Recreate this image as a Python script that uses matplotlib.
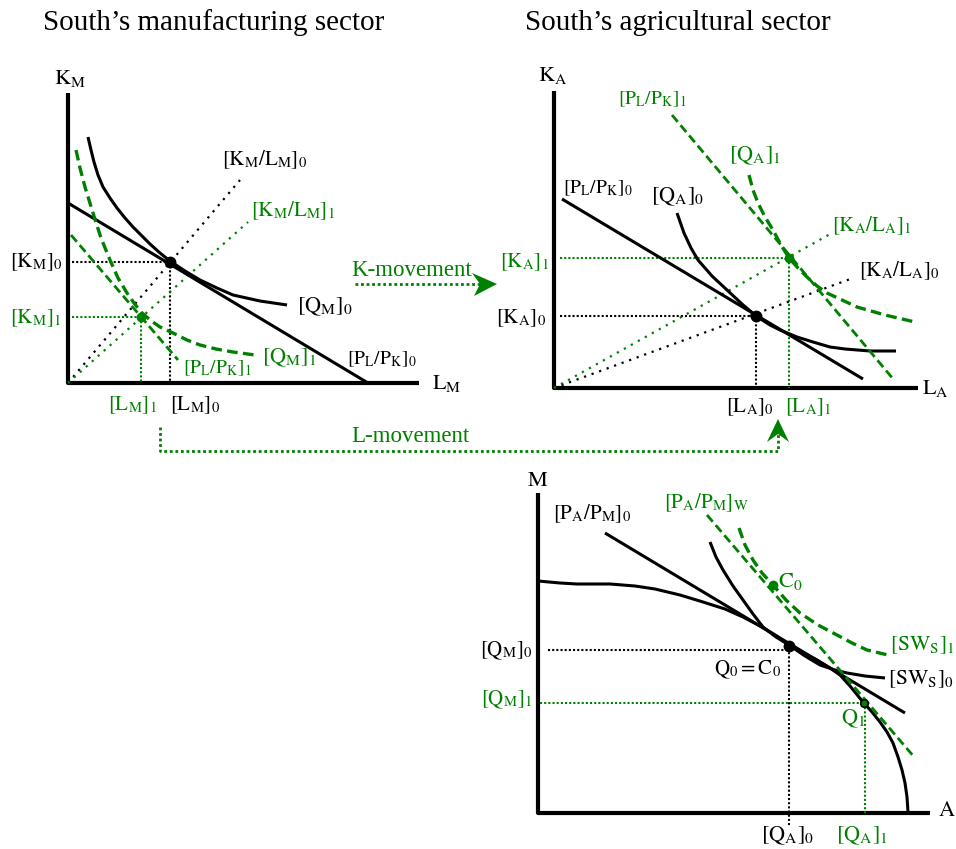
import matplotlib
matplotlib.use('Agg')
import matplotlib.pyplot as plt
from matplotlib.patches import Polygon

plt.rcParams['font.family'] = ['Liberation Serif', 'DejaVu Serif']
plt.rcParams['mathtext.fontset'] = 'stix'

GREEN = '#008000'
BLACK = '#000000'

# ---------------- data (diagram coordinates, y grows downward) ----------------
# Manufacturing panel
mfg_axis_x = [68, 68, 419]
mfg_axis_y = [93, 383, 383]
mfg_q0_x = [88, 91, 94, 98, 103, 110, 117, 125, 133, 141, 150, 160, 170, 185, 200, 217, 233, 260, 287]
mfg_q0_y = [137, 150, 162, 175, 187, 198, 208, 218, 227, 235, 244, 253, 261, 271, 280, 288, 295, 301, 305]
mfg_p0_x = [68, 368]
mfg_p0_y = [203, 383]
mfg_ray0_x = [68, 240]
mfg_ray0_y = [383, 180]
mfg_q1_x = [76, 80, 85, 93, 101, 110, 118, 127, 134, 141, 150, 160, 173, 187, 200, 216, 233, 255]
mfg_q1_y = [150, 168, 187, 213, 238, 260, 278, 293, 303, 312, 320, 327, 333, 340, 345, 349, 352, 355]
mfg_p1_x = [71, 178]
mfg_p1_y = [235, 360]
mfg_ray1_x = [68, 248]
mfg_ray1_y = [383, 222]
mfg_e0 = (170, 262)
mfg_e1 = (141, 317)

# Agricultural panel
ag_axis_x = [554, 554, 918]
ag_axis_y = [91, 388, 388]
ag_p0_x = [562, 863]
ag_p0_y = [199, 379]
ag_q0_x = [677, 684, 691, 698, 712, 727, 742, 756, 770, 780, 797, 813, 830, 845, 870, 896]
ag_q0_y = [213, 233, 248, 260, 276, 290, 304, 316, 325, 330, 337, 342, 347, 349, 351, 351]
ag_ray0_x = [554, 853]
ag_ray0_y = [388, 278]
ag_p1_x = [672, 894]
ag_p1_y = [115, 380]
ag_q1_x = [749, 753, 758, 765, 773, 781, 789, 798, 807, 817, 827, 842, 857, 885, 915]
ag_q1_y = [175, 190, 203, 217, 230, 245, 258, 268, 277, 286, 293, 300, 307, 315, 322]
ag_ray1_x = [554, 832]
ag_ray1_y = [388, 233]
ag_e0 = (756, 316)
ag_e1 = (789, 258)

# Production / trade panel
tr_axis_x = [538, 538, 930]
tr_axis_y = [493, 813, 813]
ppf_x = [538, 560, 577, 610, 635, 655, 680, 703, 725, 743, 760, 775, 789, 803, 817, 830, 840,
         850, 863, 872, 880, 887, 893, 898, 902, 905, 907, 908]
ppf_y = [581, 583, 584, 584, 586, 589, 595, 602, 609, 617, 626, 635, 645, 653, 660, 668, 675,
         686, 702, 712, 722, 732, 743, 757, 770, 783, 797, 812]
tr_p0_x = [605, 905]
tr_p0_y = [533, 713]
sw0_x = [710, 716, 723, 733, 743, 753, 763, 776, 789, 805, 820, 835, 847, 865, 885]
sw0_y = [542, 557, 570, 586, 600, 614, 627, 637, 645, 656, 665, 670, 673, 676, 678]
tr_pw_x = [707, 915]
tr_pw_y = [515, 758]
sw1_x = [739, 745, 753, 762, 773, 786, 800, 818, 837, 852, 867, 888]
sw1_y = [528, 545, 560, 573, 585, 600, 613, 625, 635, 643, 650, 655]
tr_q0 = (789, 646)
tr_c0 = (773, 585)
tr_q1 = (864, 703)

# factor movement paths
kmove_x = [355, 480]
kmove_y = [284, 284]
lmove_x = [160, 160, 778, 778]
lmove_y = [427, 451, 451, 432]

# ---------------- drawing ----------------
fig = plt.figure(figsize=(9.56, 8.49), dpi=100)
ax = fig.add_axes([0, 0, 1, 1])
ax.set_xlim(0, 956)
ax.set_ylim(849, 0)
ax.axis('off')

AXLW = 3.0
SOLID = 2.2
DASH = (0, (3.2, 1.6))
GUIDE = (0, (1, 1))
RAY = (0, (1, 2.6))


def solid(x, y, c=BLACK, lw=SOLID):
    ax.plot(x, y, color=c, lw=lw, solid_capstyle='butt', solid_joinstyle='round')


def dashed(x, y, c=GREEN, lw=2.4):
    ax.plot(x, y, color=c, lw=lw, linestyle=DASH, dash_capstyle='butt')


def dotted(x, y, c=BLACK, lw=1.5, ls=GUIDE):
    ax.plot(x, y, color=c, lw=lw, linestyle=ls, dash_capstyle='butt')


def dot(p, c=BLACK, s=7.5):
    ax.plot([p[0]], [p[1]], 'o', color=c, ms=s, mec=BLACK if c == BLACK else c)


def txt(x, y, s, c=BLACK, size=15, ha='center'):
    ax.text(x, y, s, color=c, fontsize=size, ha=ha, va='center')


# Titles
ax.text(43, 23, 'South\u2019s manufacturing sector', fontsize=21, ha='left', va='center')
ax.text(525, 23, 'South\u2019s agricultural sector', fontsize=21, ha='left', va='center')

# ---- Manufacturing ----
solid(mfg_axis_x, mfg_axis_y, lw=AXLW)
dotted([72, mfg_e0[0]], [mfg_e0[1], mfg_e0[1]])
dotted([mfg_e0[0], mfg_e0[0]], [mfg_e0[1], 383])
dotted([72, mfg_e1[0]], [mfg_e1[1], mfg_e1[1]], c=GREEN)
dotted([mfg_e1[0], mfg_e1[0]], [mfg_e1[1], 383], c=GREEN)
dotted(mfg_ray0_x, mfg_ray0_y, ls=RAY, lw=1.6)
dotted(mfg_ray1_x, mfg_ray1_y, c=GREEN, ls=RAY, lw=1.6)
solid(mfg_q0_x, mfg_q0_y)
solid(mfg_p0_x, mfg_p0_y)
dashed(mfg_q1_x, mfg_q1_y)
dashed(mfg_p1_x, mfg_p1_y, lw=2.0)
dot(mfg_e0)
dot(mfg_e1, c=GREEN, s=6)

txt(70, 78, r'$\mathrm{K}_\mathrm{M}$', size=16)
txt(447, 383, r'$\mathrm{L}_\mathrm{M}$', size=16)
txt(36, 262, r'$[\mathrm{K}_\mathrm{M}]_0$')
txt(36, 318, r'$[\mathrm{K}_\mathrm{M}]_1$', c=GREEN)
txt(133, 405, r'$[\mathrm{L}_\mathrm{M}]_1$', c=GREEN)
txt(195, 405, r'$[\mathrm{L}_\mathrm{M}]_0$')
txt(265, 160, r'$[\mathrm{K}_\mathrm{M}/\mathrm{L}_\mathrm{M}]_0$')
txt(293, 211, r'$[\mathrm{K}_\mathrm{M}/\mathrm{L}_\mathrm{M}]_1$', c=GREEN)
txt(325, 307, r'$[\mathrm{Q}_\mathrm{M}]_0$', size=16)
txt(289, 358, r'$[\mathrm{Q}_\mathrm{M}]_1$', c=GREEN, size=16)
txt(217, 368, r'$[\mathrm{P}_\mathrm{L}/\mathrm{P}_\mathrm{K}]_1$', c=GREEN, size=14)
txt(382, 359, r'$[\mathrm{P}_\mathrm{L}/\mathrm{P}_\mathrm{K}]_0$', size=14)

# K-movement
dotted(kmove_x, kmove_y, c=GREEN, lw=2.0, ls=(0, (1, 1)))
ax.add_patch(Polygon([(497, 284), (472, 273), (480, 284), (474, 296)],
                     closed=True, color=GREEN, lw=0))
txt(412, 270, 'K-movement', c=GREEN, size=16.5)

# ---- Agriculture ----
solid(ag_axis_x, ag_axis_y, lw=AXLW)
dotted([560, ag_e0[0]], [ag_e0[1], ag_e0[1]])
dotted([ag_e0[0], ag_e0[0]], [ag_e0[1], 388])
dotted([560, ag_e1[0]], [ag_e1[1], ag_e1[1]], c=GREEN)
dotted([ag_e1[0], ag_e1[0]], [ag_e1[1], 388], c=GREEN)
dotted(ag_ray0_x, ag_ray0_y, ls=RAY, lw=1.6)
dotted(ag_ray1_x, ag_ray1_y, c=GREEN, ls=RAY, lw=1.6)
solid(ag_p0_x, ag_p0_y)
solid(ag_q0_x, ag_q0_y)
dashed(ag_p1_x, ag_p1_y, lw=2.0)
dashed(ag_q1_x, ag_q1_y)
dot(ag_e0)
dot(ag_e1, c=GREEN, s=6)

txt(553, 75, r'$\mathrm{K}_\mathrm{A}$', size=16)
txt(935, 388, r'$\mathrm{L}_\mathrm{A}$', size=16)
txt(524, 262, r'$[\mathrm{K}_\mathrm{A}]_1$', c=GREEN)
txt(521, 318, r'$[\mathrm{K}_\mathrm{A}]_0$')
txt(750, 407, r'$[\mathrm{L}_\mathrm{A}]_0$')
txt(808, 407, r'$[\mathrm{L}_\mathrm{A}]_1$', c=GREEN)
txt(598, 188, r'$[\mathrm{P}_\mathrm{L}/\mathrm{P}_\mathrm{K}]_0$', size=14)
txt(652, 99, r'$[\mathrm{P}_\mathrm{L}/\mathrm{P}_\mathrm{K}]_1$', c=GREEN, size=14)
txt(678, 197, r'$[\mathrm{Q}_\mathrm{A}]_0$', size=16)
txt(755, 156, r'$[\mathrm{Q}_\mathrm{A}]_1$', c=GREEN, size=16)
txt(872, 226, r'$[\mathrm{K}_\mathrm{A}/\mathrm{L}_\mathrm{A}]_1$', c=GREEN)
txt(899, 271, r'$[\mathrm{K}_\mathrm{A}/\mathrm{L}_\mathrm{A}]_0$')

# L-movement
dotted(lmove_x, lmove_y, c=GREEN, lw=2.0, ls=(0, (1, 1)))
ax.add_patch(Polygon([(778, 419), (767, 442), (778, 434), (789, 442)],
                     closed=True, color=GREEN, lw=0))
txt(410, 436, 'L-movement', c=GREEN, size=16.5)

# ---- Trade panel ----
solid(tr_axis_x, tr_axis_y, lw=AXLW)
dotted([548, tr_q0[0]], [650, 650])
dotted([tr_q0[0], tr_q0[0]], [648, 826])
dotted([540, tr_q1[0]], [tr_q1[1], tr_q1[1]], c=GREEN)
dotted([tr_q1[0] + 1, tr_q1[0] + 1], [tr_q1[1], 813], c=GREEN)
solid(ppf_x, ppf_y)
solid(tr_p0_x, tr_p0_y)
solid(sw0_x, sw0_y)
dashed(tr_pw_x, tr_pw_y, lw=2.0)
dashed(sw1_x, sw1_y)
dot(tr_q0)
dot(tr_c0, c=GREEN, s=6)
ax.plot([tr_q1[0]], [tr_q1[1]], 'o', color=GREEN, ms=5.5, mec=BLACK, mew=1.2)

txt(538, 481, r'$\mathrm{M}$', size=16)
txt(947, 812, r'$\mathrm{A}$', size=16)
txt(506, 651, r'$[\mathrm{Q}_\mathrm{M}]_0$')
txt(507, 700, r'$[\mathrm{Q}_\mathrm{M}]_1$', c=GREEN)
txt(788, 836, r'$[\mathrm{Q}_\mathrm{A}]_0$', size=16)
txt(862, 836, r'$[\mathrm{Q}_\mathrm{A}]_1$', c=GREEN, size=16)
txt(592, 514, r'$[\mathrm{P}_\mathrm{A}/\mathrm{P}_\mathrm{M}]_0$')
txt(706, 503, r'$[\mathrm{P}_\mathrm{A}/\mathrm{P}_\mathrm{M}]_\mathrm{W}$', c=GREEN)
txt(778, 581, r'$\mathrm{C}_0$', c=GREEN, size=16, ha='left')
txt(748, 670, r'$\mathrm{Q}_0 = \mathrm{C}_0$')
txt(841, 719, r'$\mathrm{Q}_1$', c=GREEN, size=16, ha='left')
txt(890, 645, r'$[\mathrm{SW}_\mathrm{S}]_1$', c=GREEN, size=15.5, ha='left')
txt(888, 679, r'$[\mathrm{SW}_\mathrm{S}]_0$', size=15.5, ha='left')

fig.savefig('out.png', dpi=100)
